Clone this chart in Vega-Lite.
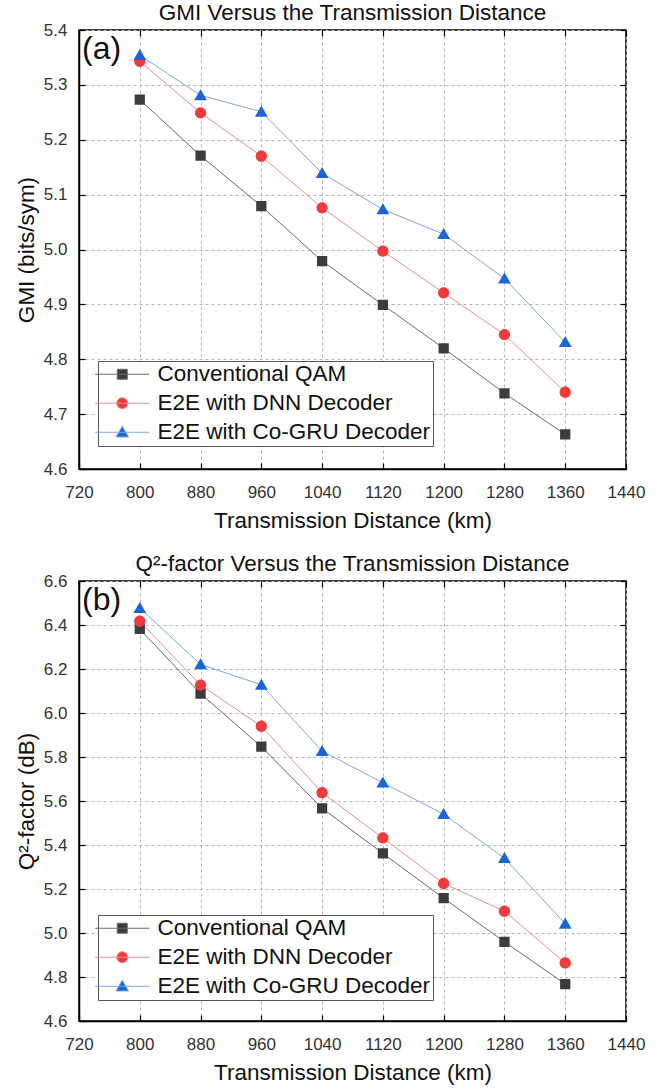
{
  "$schema": "https://vega.github.io/schema/vega-lite/v6.json",
  "padding": {"left": 14, "top": 0, "right": 5, "bottom": 0},
  "background": "white",
  "config": {
    "font": "Liberation Sans",
    "view": {"stroke": "black", "strokeWidth": 1.5},
    "title": {"fontSize": 22.5, "fontWeight": "normal", "color": "#111111", "offset": -3, "frame": "group", "font": "Liberation Sans"},
    "axis": {"labelFont": "Liberation Sans", "titleFont": "Liberation Sans", "labelFontSize": 17, "labelColor": "#333333", "titleFontSize": 22.5, "titleFontWeight": "normal", "titleColor": "#111111", "tickColor": "black", "tickSize": -6, "tickWidth": 1.2, "domainColor": "black", "domainWidth": 1.5, "gridColor": "#b5b5b5", "gridDash": [3, 3], "gridWidth": 1, "labelFlush": false, "labelOverlap": false},
    "legend": {"title": null, "orient": "none", "legendX": 19, "direction": "vertical", "fillColor": "white", "strokeColor": "#555555", "padding": 2, "labelFontSize": 22.5, "labelColor": "#111111", "labelFont": "Liberation Sans", "labelLimit": 400, "rowPadding": 6, "symbolOffset": 11, "labelOffset": 24, "symbolSize": 100, "symbolStrokeWidth": 1}
  },
  "datasets": {
    "gmi": [
      {"d": 800, "s": "Conventional QAM", "v": 5.273},
      {"d": 880, "s": "Conventional QAM", "v": 5.171},
      {"d": 960, "s": "Conventional QAM", "v": 5.079},
      {"d": 1040, "s": "Conventional QAM", "v": 4.979},
      {"d": 1120, "s": "Conventional QAM", "v": 4.899},
      {"d": 1200, "s": "Conventional QAM", "v": 4.820},
      {"d": 1280, "s": "Conventional QAM", "v": 4.738},
      {"d": 1360, "s": "Conventional QAM", "v": 4.663},
      {"d": 800, "s": "E2E with DNN Decoder", "v": 5.343},
      {"d": 880, "s": "E2E with DNN Decoder", "v": 5.249},
      {"d": 960, "s": "E2E with DNN Decoder", "v": 5.170},
      {"d": 1040, "s": "E2E with DNN Decoder", "v": 5.076},
      {"d": 1120, "s": "E2E with DNN Decoder", "v": 4.997},
      {"d": 1200, "s": "E2E with DNN Decoder", "v": 4.921},
      {"d": 1280, "s": "E2E with DNN Decoder", "v": 4.845},
      {"d": 1360, "s": "E2E with DNN Decoder", "v": 4.740},
      {"d": 800, "s": "E2E with Co-GRU Decoder", "v": 5.354},
      {"d": 880, "s": "E2E with Co-GRU Decoder", "v": 5.281},
      {"d": 960, "s": "E2E with Co-GRU Decoder", "v": 5.251},
      {"d": 1040, "s": "E2E with Co-GRU Decoder", "v": 5.139},
      {"d": 1120, "s": "E2E with Co-GRU Decoder", "v": 5.073},
      {"d": 1200, "s": "E2E with Co-GRU Decoder", "v": 5.028},
      {"d": 1280, "s": "E2E with Co-GRU Decoder", "v": 4.947},
      {"d": 1360, "s": "E2E with Co-GRU Decoder", "v": 4.831}
    ],
    "q2": [
      {"d": 800, "s": "Conventional QAM", "v": 6.382},
      {"d": 880, "s": "Conventional QAM", "v": 6.088},
      {"d": 960, "s": "Conventional QAM", "v": 5.847},
      {"d": 1040, "s": "Conventional QAM", "v": 5.567},
      {"d": 1120, "s": "Conventional QAM", "v": 5.362},
      {"d": 1200, "s": "Conventional QAM", "v": 5.158},
      {"d": 1280, "s": "Conventional QAM", "v": 4.960},
      {"d": 1360, "s": "Conventional QAM", "v": 4.768},
      {"d": 800, "s": "E2E with DNN Decoder", "v": 6.417},
      {"d": 880, "s": "E2E with DNN Decoder", "v": 6.127},
      {"d": 960, "s": "E2E with DNN Decoder", "v": 5.940},
      {"d": 1040, "s": "E2E with DNN Decoder", "v": 5.638},
      {"d": 1120, "s": "E2E with DNN Decoder", "v": 5.432},
      {"d": 1200, "s": "E2E with DNN Decoder", "v": 5.225},
      {"d": 1280, "s": "E2E with DNN Decoder", "v": 5.099},
      {"d": 1360, "s": "E2E with DNN Decoder", "v": 4.864},
      {"d": 800, "s": "E2E with Co-GRU Decoder", "v": 6.477},
      {"d": 880, "s": "E2E with Co-GRU Decoder", "v": 6.221},
      {"d": 960, "s": "E2E with Co-GRU Decoder", "v": 6.128},
      {"d": 1040, "s": "E2E with Co-GRU Decoder", "v": 5.827},
      {"d": 1120, "s": "E2E with Co-GRU Decoder", "v": 5.683},
      {"d": 1200, "s": "E2E with Co-GRU Decoder", "v": 5.540},
      {"d": 1280, "s": "E2E with Co-GRU Decoder", "v": 5.340},
      {"d": 1360, "s": "E2E with Co-GRU Decoder", "v": 5.042}
    ]
  },
  "vconcat": [
    {
      "title": "GMI Versus the Transmission Distance",
      "width": 547,
      "height": 439,
      "data": {"name": "gmi"},
      "layer": [
        {
          "mark": {"type": "line", "strokeWidth": 1},
          "encoding": {
            "x": {"field": "d", "type": "quantitative", "scale": {"domain": [720, 1440], "nice": false, "zero": false}, "axis": {"values": [720, 800, 880, 960, 1040, 1120, 1200, 1280, 1360, 1440], "format": "d", "grid": true, "labelPadding": 21, "title": "Transmission Distance (km)", "titlePadding": 9}},
            "y": {"field": "v", "type": "quantitative", "scale": {"domain": [4.6, 5.4], "nice": false, "zero": false}, "axis": {"values": [4.6, 4.7, 4.8, 4.9, 5.0, 5.1, 5.2, 5.3, 5.4], "format": ".1f", "grid": true, "labelPadding": 18, "title": "GMI (bits/sym)", "titlePadding": 5}},
            "stroke": {"field": "s", "type": "nominal", "scale": {"domain": ["Conventional QAM", "E2E with DNN Decoder", "E2E with Co-GRU Decoder"], "range": ["#6a6a6a", "#f08c8c", "#7ea8e0"]}, "legend": {"legendY": 331}}
          }
        },
        {
          "mark": {"type": "point", "filled": true, "size": 105, "opacity": 1},
          "encoding": {
            "x": {"field": "d", "type": "quantitative", "axis": {"orient": "top", "values": [720, 800, 880, 960, 1040, 1120, 1200, 1280, 1360, 1440], "labels": false, "grid": false, "domain": false, "title": null}},
            "y": {"field": "v", "type": "quantitative", "axis": {"orient": "right", "values": [4.6, 4.7, 4.8, 4.9, 5.0, 5.1, 5.2, 5.3, 5.4], "labels": false, "grid": false, "domain": false, "title": null}},
            "fill": {"field": "s", "type": "nominal", "scale": {"domain": ["Conventional QAM", "E2E with DNN Decoder", "E2E with Co-GRU Decoder"], "range": ["#3c3c3c", "#ee3b3b", "#1a66d9"]}, "legend": {"legendY": 331}},
            "shape": {"field": "s", "type": "nominal", "scale": {"domain": ["Conventional QAM", "E2E with DNN Decoder", "E2E with Co-GRU Decoder"], "range": ["M-5.4,0H5.4M-1,-1H1V1H-1Z", "M-5.4,0H5.4M1.1,0A1.1,1.1,0,1,1,-1.1,0A1.1,1.1,0,1,1,1.1,0Z", "M-5.4,0H5.4M0,-1.2L1.25,0.95H-1.25Z"]}, "legend": {"legendY": 331}}
          }
        },
        {
          "data": {"values": [{"label": "(a)"}]},
          "mark": {"type": "text", "align": "left", "baseline": "middle", "fontSize": 32, "dx": 3, "color": "#111111", "font": "Liberation Sans"},
          "encoding": {
            "x": {"datum": 720, "type": "quantitative", "axis": null},
            "y": {"datum": 5.365, "type": "quantitative", "axis": null},
            "text": {"field": "label", "type": "nominal"}
          }
        }
      ],
      "resolve": {"axis": {"x": "independent", "y": "independent"}}
    },
    {
      "title": {"text": "Q²-factor Versus the Transmission Distance"},
      "width": 547,
      "height": 440,
      "data": {"name": "q2"},
      "layer": [
        {
          "mark": {"type": "line", "strokeWidth": 1},
          "encoding": {
            "x": {"field": "d", "type": "quantitative", "scale": {"domain": [720, 1440], "nice": false, "zero": false}, "axis": {"values": [720, 800, 880, 960, 1040, 1120, 1200, 1280, 1360, 1440], "format": "d", "grid": true, "labelPadding": 21, "title": "Transmission Distance (km)", "titlePadding": 9}},
            "y": {"field": "v", "type": "quantitative", "scale": {"domain": [4.6, 6.6], "nice": false, "zero": false}, "axis": {"values": [4.6, 4.8, 5.0, 5.2, 5.4, 5.6, 5.8, 6.0, 6.2, 6.4, 6.6], "format": ".1f", "grid": true, "labelPadding": 18, "title": "Q²-factor (dB)", "titlePadding": 5}},
            "stroke": {"field": "s", "type": "nominal", "scale": {"domain": ["Conventional QAM", "E2E with DNN Decoder", "E2E with Co-GRU Decoder"], "range": ["#6a6a6a", "#f08c8c", "#7ea8e0"]}, "legend": {"legendY": 334}}
          }
        },
        {
          "mark": {"type": "point", "filled": true, "size": 105, "opacity": 1},
          "encoding": {
            "x": {"field": "d", "type": "quantitative", "axis": {"orient": "top", "values": [720, 800, 880, 960, 1040, 1120, 1200, 1280, 1360, 1440], "labels": false, "grid": false, "domain": false, "title": null}},
            "y": {"field": "v", "type": "quantitative", "axis": {"orient": "right", "values": [4.6, 4.8, 5.0, 5.2, 5.4, 5.6, 5.8, 6.0, 6.2, 6.4, 6.6], "labels": false, "grid": false, "domain": false, "title": null}},
            "fill": {"field": "s", "type": "nominal", "scale": {"domain": ["Conventional QAM", "E2E with DNN Decoder", "E2E with Co-GRU Decoder"], "range": ["#3c3c3c", "#ee3b3b", "#1a66d9"]}, "legend": {"legendY": 334}},
            "shape": {"field": "s", "type": "nominal", "scale": {"domain": ["Conventional QAM", "E2E with DNN Decoder", "E2E with Co-GRU Decoder"], "range": ["M-5.4,0H5.4M-1,-1H1V1H-1Z", "M-5.4,0H5.4M1.1,0A1.1,1.1,0,1,1,-1.1,0A1.1,1.1,0,1,1,1.1,0Z", "M-5.4,0H5.4M0,-1.2L1.25,0.95H-1.25Z"]}, "legend": {"legendY": 334}}
          }
        },
        {
          "data": {"values": [{"label": "(b)"}]},
          "mark": {"type": "text", "align": "left", "baseline": "middle", "fontSize": 32, "dx": 3, "color": "#111111", "font": "Liberation Sans"},
          "encoding": {
            "x": {"datum": 720, "type": "quantitative", "axis": null},
            "y": {"datum": 6.514, "type": "quantitative", "axis": null},
            "text": {"field": "label", "type": "nominal"}
          }
        }
      ],
      "resolve": {"axis": {"x": "independent", "y": "independent"}}
    }
  ],
  "spacing": 18,
  "resolve": {"legend": {"fill": "independent", "shape": "independent", "stroke": "independent"}}
}
